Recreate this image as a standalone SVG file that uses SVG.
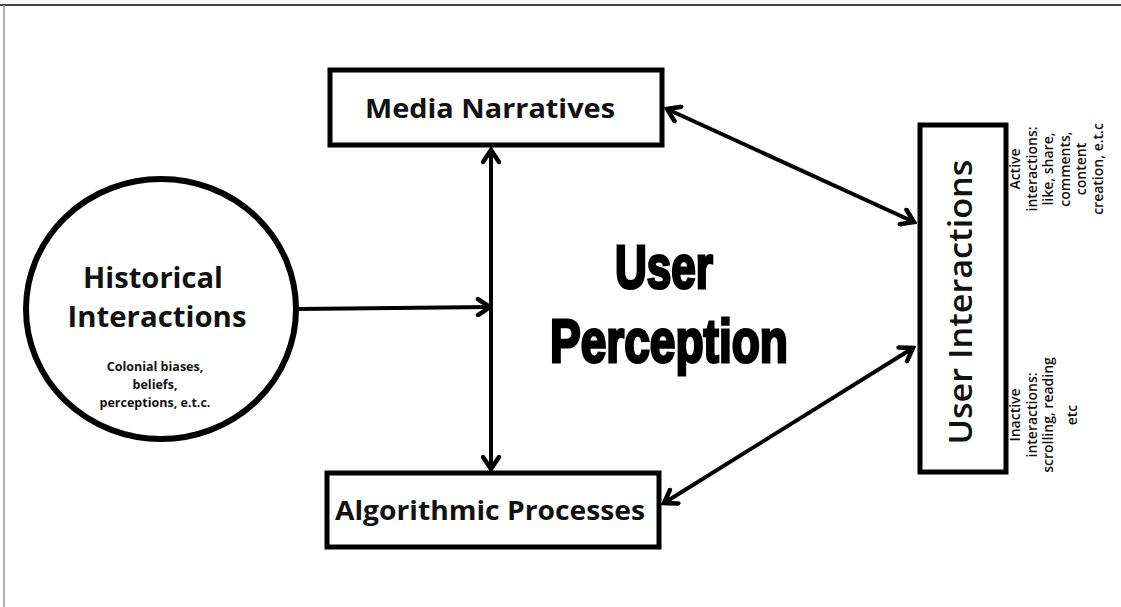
<svg xmlns="http://www.w3.org/2000/svg" width="1121" height="607" viewBox="0 0 1121 607">
<style>
.box{fill:#fff;stroke:#000;stroke-width:5}
.t{font-family:"Open Sans","Liberation Sans",sans-serif;fill:#111;text-anchor:middle}
.big{font-weight:700;font-size:27px}
.hc{font-weight:700;font-size:29px}
.sm{font-weight:700;font-size:12.5px}
.side{font-weight:600;font-size:14px}
.con{stroke:#000;stroke-width:4;fill:none}
.pc{font-family:"Liberation Sans",Arial,sans-serif;font-weight:700;font-size:62px;fill:#000;stroke:#000;stroke-width:3;text-anchor:middle}
</style>
<defs>
<marker id="ah" viewBox="0 0 20 20" refX="17" refY="10" markerWidth="20" markerHeight="20" markerUnits="userSpaceOnUse" orient="auto-start-reverse">
<path d="M5,2 L17,10 L5,18" fill="none" stroke="#000" stroke-width="4.5" stroke-linecap="round" stroke-linejoin="miter"/>
</marker>
</defs>
<rect x="0" y="0" width="1121" height="607" fill="#fff"/>
<line x1="0" y1="5" x2="1121" y2="5" stroke="#444" stroke-width="2"/>
<line x1="4" y1="5" x2="4" y2="607" stroke="#999" stroke-width="1.5"/>
<g id="connectors">
<line class="con" x1="298" y1="309" x2="490" y2="307" marker-end="url(#ah)"/>
<line class="con" x1="491" y1="150" x2="491" y2="469" marker-start="url(#ah)" marker-end="url(#ah)"/>
<line class="con" x1="667" y1="109" x2="914" y2="222" marker-start="url(#ah)" marker-end="url(#ah)"/>
<line class="con" x1="664" y1="503" x2="913" y2="348" marker-start="url(#ah)" marker-end="url(#ah)"/>
</g>
<g id="historical">
<ellipse cx="161" cy="309" rx="135" ry="130" fill="#fff" stroke="#000" stroke-width="6"/>
<text class="t hc" x="153" y="288" textLength="140" lengthAdjust="spacingAndGlyphs">Historical</text>
<text class="t hc" x="157" y="327" textLength="179" lengthAdjust="spacingAndGlyphs">Interactions</text>
<text class="t sm" x="155" y="371">Colonial biases,</text>
<text class="t sm" x="155" y="389">beliefs,</text>
<text class="t sm" x="155" y="407">perceptions, e.t.c.</text>
</g>
<g id="media">
<rect class="box" x="330" y="70" width="332" height="75"/>
<text class="t big" x="490" y="118" textLength="250" lengthAdjust="spacingAndGlyphs">Media Narratives</text>
</g>
<g id="algorithmic">
<rect class="box" x="327" y="473" width="332" height="74"/>
<text class="t big" x="490" y="520" textLength="310" lengthAdjust="spacingAndGlyphs">Algorithmic Processes</text>
</g>
<g id="perception">
<text class="pc" x="664" y="288" textLength="98" lengthAdjust="spacingAndGlyphs">User</text>
<text class="pc" x="669" y="362" textLength="238" lengthAdjust="spacingAndGlyphs">Perception</text>
</g>
<g id="user-interactions">
<rect class="box" x="920" y="125" width="86" height="347"/>
<text class="t" transform="translate(972,302) rotate(-90)" x="0" y="0" font-size="32" font-weight="600" textLength="285" lengthAdjust="spacingAndGlyphs">User Interactions</text>
<g transform="translate(1020,169) rotate(-90)">
<text class="t side" x="0" y="0">Active</text>
<text class="t side" x="0" y="16.5">interactions:</text>
<text class="t side" x="0" y="33">like, share,</text>
<text class="t side" x="0" y="49.5">comments,</text>
<text class="t side" x="0" y="66">content</text>
<text class="t side" x="0" y="82.5">creation, e.t.c</text>
</g>
<g transform="translate(1020,415) rotate(-90)">
<text class="t side" x="0" y="0">Inactive</text>
<text class="t side" x="0" y="16.5">interactions:</text>
<text class="t side" x="0" y="33">scrolling, reading</text>
<text class="t side" x="0" y="57">etc</text>
</g>
</g>
</svg>
